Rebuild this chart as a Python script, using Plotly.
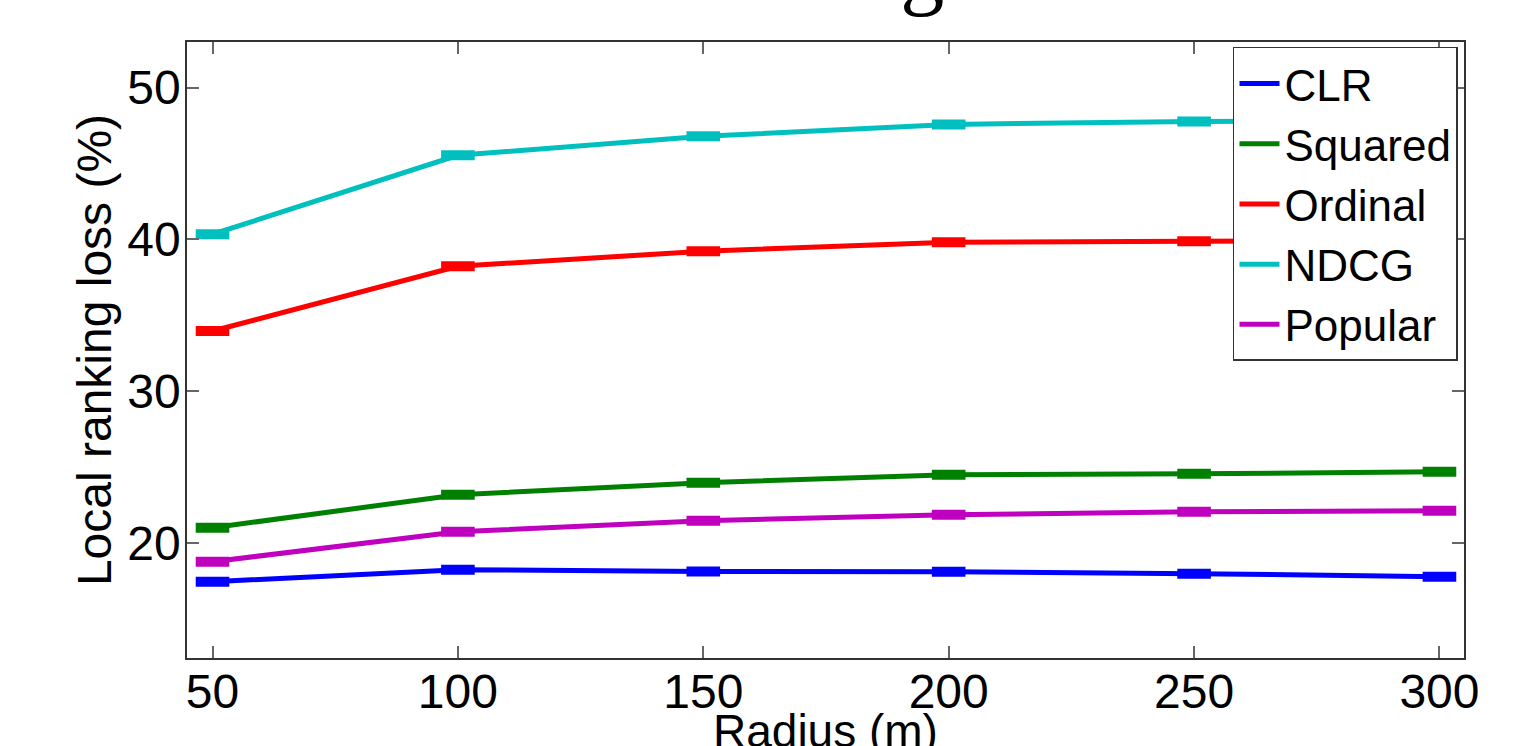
import plotly.graph_objects as go

radius = [50, 100, 150, 200, 250, 300]
series_names = ["CLR", "Squared", "Ordinal", "NDCG", "Popular"]
clr = [17.43, 18.22, 18.10, 18.08, 17.96, 17.76]
squared = [20.99, 23.16, 23.95, 24.47, 24.54, 24.67]
ordinal = [33.95, 38.22, 39.21, 39.80, 39.87, 39.90]
ndcg = [40.33, 45.53, 46.78, 47.57, 47.76, 47.80]
popular = [18.75, 20.72, 21.45, 21.84, 22.04, 22.10]
colors = ["#0000ff", "#008000", "#ff0000", "#00bfbf", "#bf00bf"]

x_ticks = [50, 100, 150, 200, 250, 300]
y_ticks = [20, 30, 40, 50]

FONT = "Liberation Sans, Arial, Helvetica, sans-serif"

fig = go.Figure()
all_series = [clr, squared, ordinal, ndcg, popular]

# markers (no legend)
for name, vals, col in zip(series_names, all_series, colors):
    fig.add_trace(go.Scatter(
        x=radius, y=vals, mode="markers", showlegend=False, name=name,
        marker=dict(symbol="line-ew", size=24, color=col,
                    line=dict(color=col, width=10)),
        hoverinfo="skip"))

# lines (legend)
for name, vals, col in zip(series_names, all_series, colors):
    fig.add_trace(go.Scatter(
        x=radius, y=vals, mode="lines", name=name,
        line=dict(color=col, width=5)))

axis_common = dict(
    showgrid=False, zeroline=False, showline=True, linecolor="#333333",
    linewidth=1.5, mirror="ticks", ticks="inside", ticklen=12,
    tickcolor="#666666", tickwidth=1.5, automargin=False,
    tickfont=dict(family=FONT, size=48, color="black"),
)

fig.update_layout(
    width=1539, height=746,
    margin=dict(l=187, r=75, t=42, b=88),
    plot_bgcolor="white", paper_bgcolor="white",
    xaxis=dict(range=[44.8, 305], tickvals=x_ticks, ticklabelstandoff=-9,
               **axis_common),
    yaxis=dict(range=[12.4, 53], tickvals=y_ticks, ticklabelstandoff=-5,
               title=dict(text="Local ranking loss (%)", standoff=0,
                          font=dict(family=FONT, size=48, color="black")),
               **axis_common),
    legend=dict(x=0.9953, y=0.992, xanchor="right", yanchor="top",
                bgcolor="white", bordercolor="#333333", borderwidth=1.5,
                font=dict(family=FONT, size=44, color="black"),
                tracegroupgap=0, itemwidth=40),
    showlegend=True,
)

# x-axis title (placed as annotation so it can sit partly below the page edge)
fig.add_annotation(
    text="Radius (m)", xref="paper", yref="paper",
    x=0.5, y=-0.073, xanchor="center", yanchor="top", showarrow=False,
    font=dict(family=FONT, size=46, color="black"))

fig.add_annotation(
    text="Local ranking", xref="paper", yref="paper",
    x=0.5944, y=1.038, xanchor="right", yanchor="bottom",
    showarrow=False,
    font=dict(family="Liberation Serif, Times New Roman, serif", size=88, color="black"))

fig.write_html("out.html", config={"displayModeBar": False},
               post_script="document.body.style.margin='0';")
